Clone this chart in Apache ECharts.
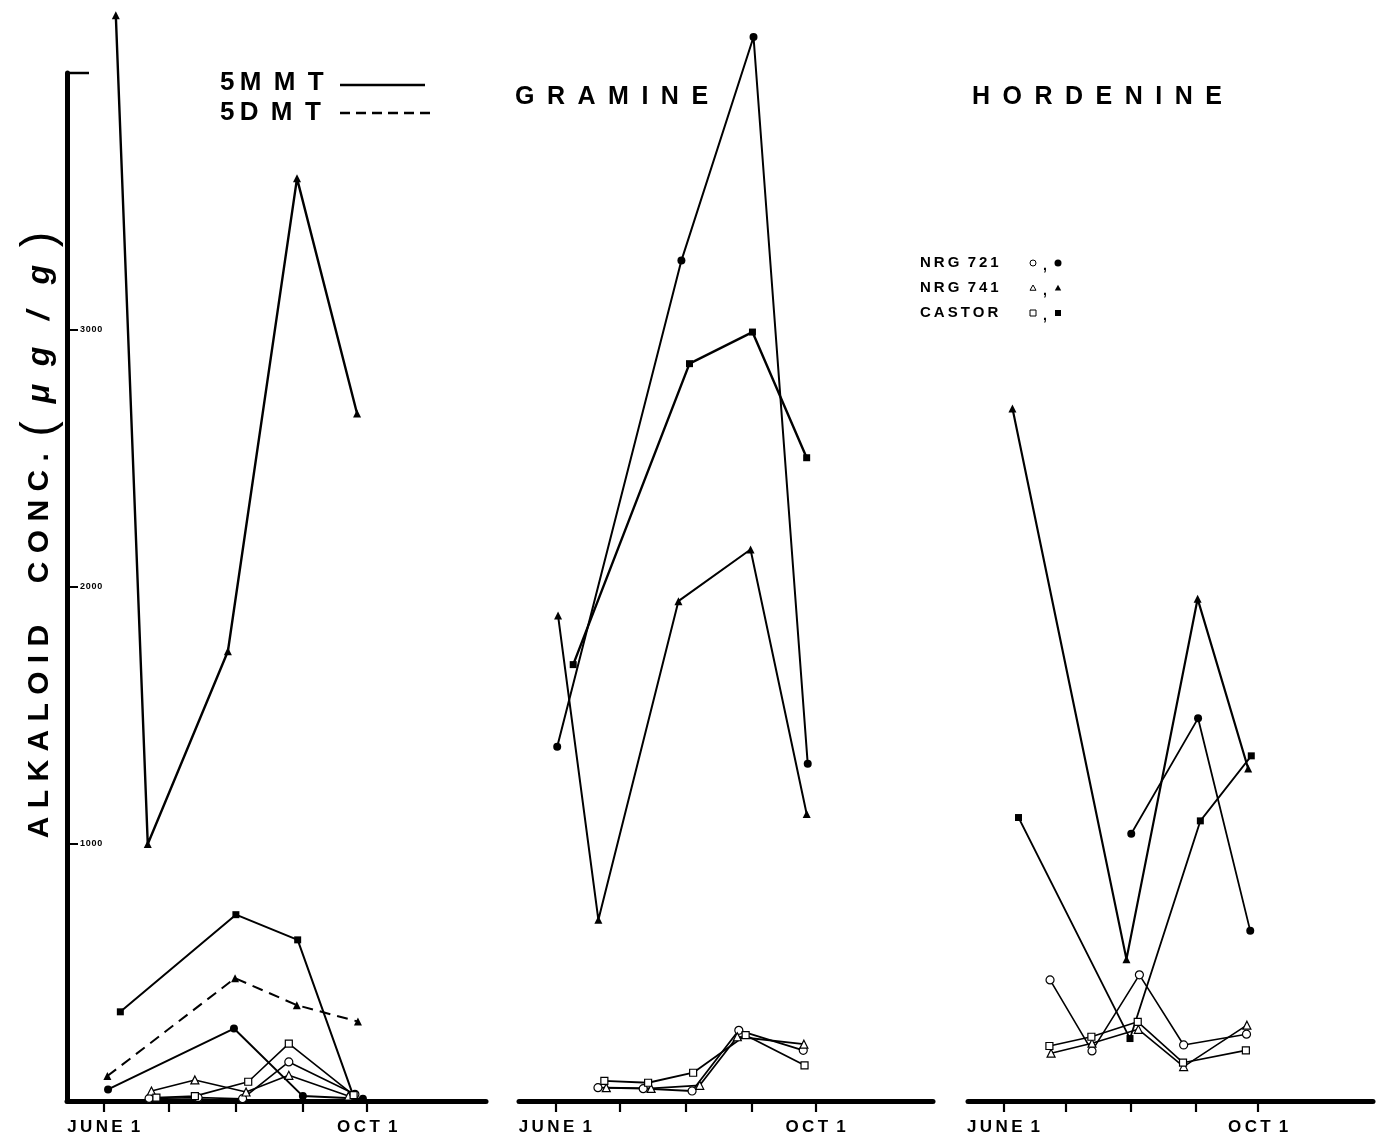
<!DOCTYPE html>
<html><head><meta charset="utf-8">
<script src="https://cdn.jsdelivr.net/npm/echarts@6.0.0/dist/echarts.min.js"></script>
<style>html,body{margin:0;padding:0;background:#fff}#c{width:1377px;height:1145px}</style>
</head><body><div id="c"></div>
<script>
// x = days after June 1, y = alkaloid concentration (µg/g)
const MONTH_TICKS = [0, 30, 61, 92, 122];
const DATE_LABELS = ['J\u2009U\u2009N\u2009E\u2009 1', 'O\u2009C\u2009T\u2009 1'];
const Y_TICKS = [1000, 2000, 3000];

// ---- Panel 1 : 5MMT (solid) / 5DMT (dashed)
const p1_741f_day = [5.6, 20.4, 57.5, 89.5, 117.3];
const p1_741f_val = [4225, 1000, 1750, 3590, 2675];
const p1_castf_day = [7.7, 61.2, 89.8, 116.0];
const p1_castf_val = [347, 725, 627, 10];
const p1_721f_day = [2.0, 60.3, 92.2, 120.0];
const p1_721f_val = [45, 282, 19, 9];
const p1_741dmt_day = [1.7, 60.8, 89.4, 117.7];
const p1_741dmt_val = [97, 478, 373, 309];
const p1_721o_day = [21.0, 43.7, 64.3, 85.7, 116.3];
const p1_721o_val = [10, 13, 9, 152, 26];
const p1_741o_day = [22.1, 42.2, 65.9, 85.7, 113.3];
const p1_741o_val = [39, 82, 35, 100, 19];
const p1_casto_day = [24.4, 42.2, 66.9, 85.7, 115.7];
const p1_casto_val = [13, 19, 75, 223, 23];

// ---- Panel 2 : GRAMINE
const p2_721f_day = [0.9, 59.1, 92.9, 118.3];
const p2_721f_val = [1378, 3270, 4140, 1312];
const p2_741f_day = [1.3, 20.2, 57.7, 91.5, 117.8];
const p2_741f_val = [1889, 705, 1945, 2146, 1117];
const p2_castf_day = [8.4, 62.9, 92.4, 117.8];
const p2_castf_val = [1698, 2869, 2992, 2503];
const p2_721o_day = [20.0, 41.2, 64.1, 86.0, 116.2];
const p2_721o_val = [52, 48, 39, 275, 197];
const p2_741o_day = [23.9, 44.9, 67.7, 85.3, 116.5];
const p2_741o_val = [52, 49, 61, 250, 221];
const p2_casto_day = [23.0, 43.5, 64.6, 89.2, 116.8];
const p2_casto_val = [78, 71, 110, 256, 139];

// ---- Panel 3 : HORDENINE
const p3_741f_day = [4.3, 58.9, 93.0, 117.2];
const p3_741f_val = [2695, 552, 1954, 1294];
const p3_721f_day = [61.2, 93.2, 118.2];
const p3_721f_val = [1040, 1489, 662];
const p3_castf_day = [7.2, 60.6, 94.3, 118.7];
const p3_castf_val = [1103, 243, 1090, 1343];
const p3_721o_day = [22.3, 42.4, 65.1, 86.3, 116.4];
const p3_721o_val = [471, 195, 491, 218, 260];
const p3_741o_day = [22.8, 42.4, 64.6, 86.3, 116.6];
const p3_741o_val = [186, 225, 279, 134, 295];
const p3_casto_day = [22.0, 42.1, 64.3, 86.0, 116.1];
const p3_casto_val = [214, 250, 308, 149, 197];

const FONT = '"Liberation Sans", Arial, sans-serif';
const zip = (d, v) => d.map((x, i) => [x, v[i]]);

function mk(g, days, vals, sym, filled, dashed, lw) {
  const size = sym === 'rect' ? 7 : 8;
  return {
    type: 'line', xAxisIndex: g, yAxisIndex: g, data: zip(days, vals),
    symbol: sym, symbolSize: size, clip: false, animation: false,
    lineStyle: { color: '#000', width: lw || 2, type: dashed ? [11, 7] : 'solid' },
    itemStyle: filled ? { color: '#000' } : { color: '#fff', borderColor: '#000', borderWidth: 1.2 },
    z: filled ? 3 : 4
  };
}

const series = [
  mk(0, p1_741f_day, p1_741f_val, 'triangle', true, false, 2.4),
  mk(0, p1_castf_day, p1_castf_val, 'rect', true, false, 2),
  mk(0, p1_721f_day, p1_721f_val, 'circle', true, false, 2),
  mk(0, p1_741dmt_day, p1_741dmt_val, 'triangle', true, true, 2),
  mk(0, p1_721o_day, p1_721o_val, 'circle', false, false, 1.6),
  mk(0, p1_741o_day, p1_741o_val, 'triangle', false, false, 1.6),
  mk(0, p1_casto_day, p1_casto_val, 'rect', false, false, 1.6),

  mk(1, p2_721f_day, p2_721f_val, 'circle', true, false, 2),
  mk(1, p2_741f_day, p2_741f_val, 'triangle', true, false, 2),
  mk(1, p2_castf_day, p2_castf_val, 'rect', true, false, 2.4),
  mk(1, p2_721o_day, p2_721o_val, 'circle', false, false, 1.8),
  mk(1, p2_741o_day, p2_741o_val, 'triangle', false, false, 1.8),
  mk(1, p2_casto_day, p2_casto_val, 'rect', false, false, 1.8),

  mk(2, p3_741f_day, p3_741f_val, 'triangle', true, false, 2.2),
  mk(2, p3_721f_day, p3_721f_val, 'circle', true, false, 1.8),
  mk(2, p3_castf_day, p3_castf_val, 'rect', true, false, 1.8),
  mk(2, p3_721o_day, p3_721o_val, 'circle', false, false, 1.6),
  mk(2, p3_741o_day, p3_741o_val, 'triangle', false, false, 1.6),
  mk(2, p3_casto_day, p3_casto_val, 'rect', false, false, 1.6)
];

const grids = [
  { left: 67, width: 419, top: 73, height: 1028 },
  { left: 519, width: 414, top: 73, height: 1028 },
  { left: 968, width: 405, top: 73, height: 1028 }
];

const xAxes = grids.map((g, i) => ({
  type: 'value', gridIndex: i, min: -17, max: 177,
  splitLine: { show: false },
  axisLine: { show: true, onZero: false, lineStyle: { color: '#000', width: 5 } },
  axisTick: { show: true, customValues: MONTH_TICKS, length: 11, lineStyle: { color: '#000', width: 2.2 } },
  axisLabel: {
    customValues: [MONTH_TICKS[0], MONTH_TICKS[MONTH_TICKS.length - 1]],
    formatter: v => (v === MONTH_TICKS[0] ? DATE_LABELS[0] : DATE_LABELS[1]),
    color: '#000', fontFamily: FONT, fontWeight: 'bold', fontSize: 17, margin: 18
  }
}));

const yAxes = grids.map((g, i) => ({
  type: 'value', gridIndex: i, min: 0, max: 4000, interval: 1000,
  show: i === 0,
  splitLine: { show: false },
  axisLine: { show: true, onZero: false, lineStyle: { color: '#000', width: 5 } },
  axisTick: { show: true, inside: true, length: 11, lineStyle: { color: '#000', width: 2 } },
  axisLabel: {
    inside: true, margin: 13, color: '#000', fontFamily: FONT, fontWeight: 'bold', fontSize: 9,
    formatter: v => (Y_TICKS.indexOf(v) >= 0 ? String(v).split('').join('\u200a') : '')
  }
}));

function tri(cx, cy, s) { return [[cx, cy - s], [cx + s, cy + s * 0.75], [cx - s, cy + s * 0.75]]; }

const legendFont = 'bold 15px ' + FONT;
const sp = '\u2009';
const graphic = [
  { type: 'text', x: 220, y: 83, style: { text: '5' + sp + 'M' + sp + ' M' + sp + ' T', font: 'bold 26px ' + FONT, fill: '#000', textVerticalAlign: 'middle' } },
  { type: 'line', shape: { x1: 340, y1: 85, x2: 425, y2: 85 }, style: { stroke: '#000', lineWidth: 2.5 } },
  { type: 'text', x: 220, y: 113, style: { text: '5' + sp + 'D' + sp + ' M' + sp + ' T', font: 'bold 26px ' + FONT, fill: '#000', textVerticalAlign: 'middle' } },
  { type: 'line', shape: { x1: 340, y1: 113, x2: 432, y2: 113 }, style: { stroke: '#000', lineWidth: 2.5, lineDash: [10, 6] } },
  { type: 'text', x: 515, y: 97, style: { text: 'G\u2002R\u2002A\u2002M\u2002I\u2002N\u2002E', font: 'bold 25px ' + FONT, fill: '#000', textVerticalAlign: 'middle' } },
  { type: 'text', x: 972, y: 97, style: { text: 'H\u2002O\u2002R\u2002D\u2002E\u2002N\u2002I\u2002N\u2002E', font: 'bold 25px ' + FONT, fill: '#000', textVerticalAlign: 'middle' } },

  { type: 'text', x: 920, y: 263, style: { text: 'N' + sp + 'R' + sp + 'G  7' + sp + '2' + sp + '1', font: legendFont, fill: '#000', textVerticalAlign: 'middle' } },
  { type: 'text', x: 920, y: 288, style: { text: 'N' + sp + 'R' + sp + 'G  7' + sp + '4' + sp + '1', font: legendFont, fill: '#000', textVerticalAlign: 'middle' } },
  { type: 'text', x: 920, y: 313, style: { text: 'C' + sp + 'A' + sp + 'S' + sp + 'T' + sp + 'O' + sp + 'R', font: legendFont, fill: '#000', textVerticalAlign: 'middle' } },
  { type: 'circle', shape: { cx: 1033, cy: 263, r: 3 }, style: { fill: '#fff', stroke: '#000', lineWidth: 1 } },
  { type: 'circle', shape: { cx: 1058, cy: 263, r: 3.5 }, style: { fill: '#000' } },
  { type: 'polygon', shape: { points: tri(1033, 288, 3) }, style: { fill: '#fff', stroke: '#000', lineWidth: 1 } },
  { type: 'polygon', shape: { points: tri(1058, 288, 3.2) }, style: { fill: '#000' } },
  { type: 'rect', shape: { x: 1030, y: 310, width: 6, height: 6 }, style: { fill: '#fff', stroke: '#000', lineWidth: 1 } },
  { type: 'rect', shape: { x: 1055, y: 310, width: 6, height: 6 }, style: { fill: '#000' } },
  { type: 'text', x: 1043, y: 266, style: { text: ',', font: 'bold 14px ' + FONT, fill: '#000', textVerticalAlign: 'middle' } },
  { type: 'text', x: 1043, y: 291, style: { text: ',', font: 'bold 14px ' + FONT, fill: '#000', textVerticalAlign: 'middle' } },
  { type: 'text', x: 1043, y: 316, style: { text: ',', font: 'bold 14px ' + FONT, fill: '#000', textVerticalAlign: 'middle' } },

  { type: 'text', x: 40, y: 535, rotation: Math.PI / 2,
    style: {
      text: '{a|A L K A L O I D     C O N C .}     {b|(}{c|  \u03bc  g   /   g  }{b|)}',
      rich: {
        a: { font: 'bold 30px ' + FONT, fill: '#000' },
        b: { font: '46px ' + FONT, fill: '#000' },
        c: { font: 'italic bold 32px ' + FONT, fill: '#000' }
      },
      textAlign: 'center', textVerticalAlign: 'middle'
    } }
];

const chart = echarts.init(document.getElementById('c'), null, { renderer: 'canvas' });
chart.setOption({
  backgroundColor: '#fff', animation: false,
  grid: grids, xAxis: xAxes, yAxis: yAxes, series: series, graphic: graphic
});
// top bracket of the y axis at its maximum
const yTop = chart.convertToPixel({ yAxisIndex: 0 }, 4000);
const xLeft = chart.convertToPixel({ xAxisIndex: 0 }, -17);
graphic.push({ type: 'line', shape: { x1: xLeft, y1: yTop, x2: xLeft + 22, y2: yTop }, style: { stroke: '#000', lineWidth: 2.5 } });
chart.setOption({ graphic: graphic });
</script></body></html>
